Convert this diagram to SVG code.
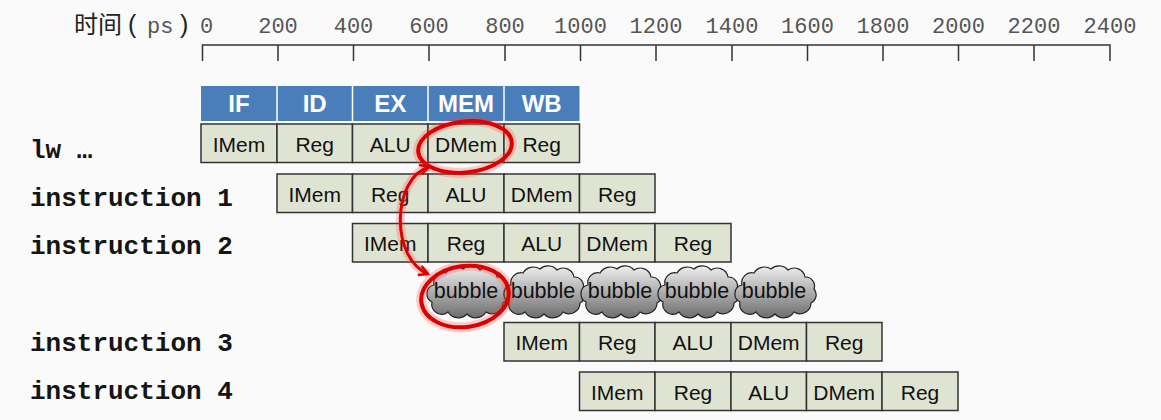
<svg xmlns="http://www.w3.org/2000/svg" width="1161" height="420" viewBox="0 0 1161 420">
<style>
.ax{stroke:#333;stroke-width:1.5;fill:none}
.tl{font-family:"Liberation Mono",monospace;font-size:22px;fill:#555;text-anchor:middle}
.hd{fill:#4a7ebb}
.hs{stroke:#fff;stroke-width:1.5}
.ht{font-family:"Liberation Sans",Arial,sans-serif;font-weight:bold;font-size:24px;fill:#fff;text-anchor:middle}
.cell{fill:#dfe4d2;stroke:#333;stroke-width:1.5}
.ct{font-family:"Liberation Sans",Arial,sans-serif;font-size:21px;fill:#111;text-anchor:middle}
.lab{font-family:"Liberation Mono","Courier New",monospace;font-weight:bold;font-size:26px;fill:#151515}
.bt{font-family:"Liberation Sans",Arial,sans-serif;font-size:21.5px;fill:#111;text-anchor:middle}
.halo{fill:none;stroke:#ff4040;stroke-opacity:0.25;stroke-width:10}
.red{fill:none;stroke:#dd0000;stroke-width:4}
.cj{font-family:"Noto Sans CJK SC","Liberation Sans",sans-serif;font-size:24px;fill:#222}
.pa{font-family:"Liberation Sans",sans-serif;font-size:25px;fill:#222}
</style>
<defs>
<linearGradient id="cg" x1="0" y1="0" x2="0" y2="1">
<stop offset="0" stop-color="#eeeeee"/>
<stop offset="1" stop-color="#6e6e6e"/>
</linearGradient>
<path id="cloud" d="M -33,-6 A 10 10 0 0 1 -21,-18 A 12 12 0 0 1 -4,-22 A 12 12 0 0 1 13,-21 A 11 11 0 0 1 30,-14 A 9 9 0 0 1 39,-2 A 9 9 0 0 1 36,12 A 11 11 0 0 1 19,21 A 12 12 0 0 1 0,23 A 12 12 0 0 1 -19,21 A 10 10 0 0 1 -35,11 A 9 9 0 0 1 -40,2 A 8 8 0 0 1 -33,-6 Z" fill="url(#cg)" stroke="#222" stroke-width="1.2"/>
<marker id="ah" viewBox="0 0 12 12" refX="10" refY="6" markerWidth="12" markerHeight="12" markerUnits="userSpaceOnUse" orient="auto-start-reverse">
<path d="M 1,1 L 10,6 L 1,11" fill="none" stroke="#dd0000" stroke-width="2.5"/>
</marker>
</defs>
<rect width="1161" height="420" fill="#fafafa"/>

<g id="axis">
<text class="cj" x="74" y="33">时间</text>
<text class="pa" x="128" y="33">(</text>
<text x="147" y="33" font-family="'Liberation Mono',monospace" font-size="22" fill="#555">ps</text>
<text class="pa" x="180" y="33">)</text>
<text x="200" y="33" font-family="'Liberation Mono',monospace" font-size="22" fill="#555">0</text>
<text class="tl" x="278" y="33">200</text>
<text class="tl" x="353.5" y="33">400</text>
<text class="tl" x="429" y="33">600</text>
<text class="tl" x="505" y="33">800</text>
<text class="tl" x="580.5" y="33">1000</text>
<text class="tl" x="656" y="33">1200</text>
<text class="tl" x="732" y="33">1400</text>
<text class="tl" x="807.5" y="33">1600</text>
<text class="tl" x="883" y="33">1800</text>
<text class="tl" x="958.5" y="33">2000</text>
<text class="tl" x="1034" y="33">2200</text>
<text class="tl" x="1110" y="33">2400</text>
<path class="ax" d="M 202.5,61 V 45 H 1110 V 61 M 278,45 V 61 M 353.5,45 V 61 M 429,45 V 61 M 505,45 V 61 M 580.5,45 V 61 M 656,45 V 61 M 732,45 V 61 M 807.5,45 V 61 M 883,45 V 61 M 958.5,45 V 61 M 1034,45 V 61"/>
</g>

<g id="stages">
<rect class="hd" x="201" y="86" width="378.5" height="35"/>
<path class="hs" d="M 277,86 V 121 M 352.5,86 V 121 M 428,86 V 121 M 504,86 V 121"/>
<text class="ht" x="239" y="112">IF</text>
<text class="ht" x="314.7" y="112">ID</text>
<text class="ht" x="390.2" y="112">EX</text>
<text class="ht" x="466" y="112">MEM</text>
<text class="ht" x="541.7" y="112">WB</text>
</g>

<g id="labels">
<text class="lab" x="30" y="158">lw …</text>
<text class="lab" x="30" y="206">instruction 1</text>
<text class="lab" x="30" y="254">instruction 2</text>
<text class="lab" x="30" y="351">instruction 3</text>
<text class="lab" x="30" y="399">instruction 4</text>
</g>

<g id="row-lw">
<rect class="cell" x="201" y="124" width="76" height="38.5"/>
<rect class="cell" x="277" y="124" width="75.5" height="38.5"/>
<rect class="cell" x="352.5" y="124" width="75.5" height="38.5"/>
<rect class="cell" x="428" y="124" width="76" height="38.5"/>
<rect class="cell" x="504" y="124" width="75.5" height="38.5"/>
<text class="ct" x="239" y="152">IMem</text>
<text class="ct" x="314.7" y="152">Reg</text>
<text class="ct" x="390.2" y="152">ALU</text>
<text class="ct" x="466" y="152">DMem</text>
<text class="ct" x="541.7" y="152">Reg</text>
</g>

<g id="row-1">
<rect class="cell" x="277" y="174" width="75.5" height="38.5"/>
<rect class="cell" x="352.5" y="174" width="75.5" height="38.5"/>
<rect class="cell" x="428" y="174" width="76" height="38.5"/>
<rect class="cell" x="504" y="174" width="75.5" height="38.5"/>
<rect class="cell" x="579.5" y="174" width="75.5" height="38.5"/>
<text class="ct" x="314.7" y="202">IMem</text>
<text class="ct" x="390.2" y="202">Reg</text>
<text class="ct" x="466" y="202">ALU</text>
<text class="ct" x="541.7" y="202">DMem</text>
<text class="ct" x="617.2" y="202">Reg</text>
</g>

<g id="row-2">
<rect class="cell" x="352.5" y="223.5" width="75.5" height="38.5"/>
<rect class="cell" x="428" y="223.5" width="76" height="38.5"/>
<rect class="cell" x="504" y="223.5" width="75.5" height="38.5"/>
<rect class="cell" x="579.5" y="223.5" width="75.5" height="38.5"/>
<rect class="cell" x="655" y="223.5" width="76" height="38.5"/>
<text class="ct" x="390.2" y="251">IMem</text>
<text class="ct" x="466" y="251">Reg</text>
<text class="ct" x="541.7" y="251">ALU</text>
<text class="ct" x="617.2" y="251">DMem</text>
<text class="ct" x="693" y="251">Reg</text>
</g>

<g id="bubbles">
<use href="#cloud" x="467" y="291"/>
<use href="#cloud" x="544" y="291"/>
<use href="#cloud" x="621" y="291"/>
<use href="#cloud" x="698" y="291"/>
<use href="#cloud" x="775" y="291"/>
<text class="bt" x="466" y="298">bubble</text>
<text class="bt" x="543" y="298">bubble</text>
<text class="bt" x="620" y="298">bubble</text>
<text class="bt" x="697" y="298">bubble</text>
<text class="bt" x="774" y="298">bubble</text>
</g>

<g id="row-3">
<rect class="cell" x="504" y="322.5" width="75.5" height="38.5"/>
<rect class="cell" x="579.5" y="322.5" width="75.5" height="38.5"/>
<rect class="cell" x="655" y="322.5" width="76" height="38.5"/>
<rect class="cell" x="731" y="322.5" width="75.5" height="38.5"/>
<rect class="cell" x="806.5" y="322.5" width="75.5" height="38.5"/>
<text class="ct" x="541.7" y="350">IMem</text>
<text class="ct" x="617.2" y="350">Reg</text>
<text class="ct" x="693" y="350">ALU</text>
<text class="ct" x="768.7" y="350">DMem</text>
<text class="ct" x="844.2" y="350">Reg</text>
</g>

<g id="row-4">
<rect class="cell" x="579.5" y="372" width="75.5" height="38.5"/>
<rect class="cell" x="655" y="372" width="76" height="38.5"/>
<rect class="cell" x="731" y="372" width="75.5" height="38.5"/>
<rect class="cell" x="806.5" y="372" width="75.5" height="38.5"/>
<rect class="cell" x="882" y="372" width="76" height="38.5"/>
<text class="ct" x="617.2" y="400">IMem</text>
<text class="ct" x="693" y="400">Reg</text>
<text class="ct" x="768.7" y="400">ALU</text>
<text class="ct" x="844.2" y="400">DMem</text>
<text class="ct" x="920" y="400">Reg</text>
</g>

<g id="connectors">
<ellipse class="halo" cx="465" cy="147" rx="47" ry="25.5" transform="rotate(-6 465 147)"/>
<ellipse class="red" cx="465" cy="147" rx="47" ry="25.5" transform="rotate(-6 465 147)"/>
<ellipse class="halo" cx="465" cy="296.5" rx="44" ry="30.5" transform="rotate(-8 465 296.5)"/>
<ellipse class="red" cx="465" cy="296.5" rx="44" ry="30.5" transform="rotate(-8 465 296.5)"/>
<path d="M 429,167 C 392,178 390,258 428,274" fill="none" stroke="#ff4040" stroke-opacity="0.25" stroke-width="9"/>
<path d="M 429,167 C 392,178 390,258 428,274" fill="none" stroke="#dd0000" stroke-width="3" marker-start="url(#ah)" marker-end="url(#ah)"/>
</g>
</svg>
